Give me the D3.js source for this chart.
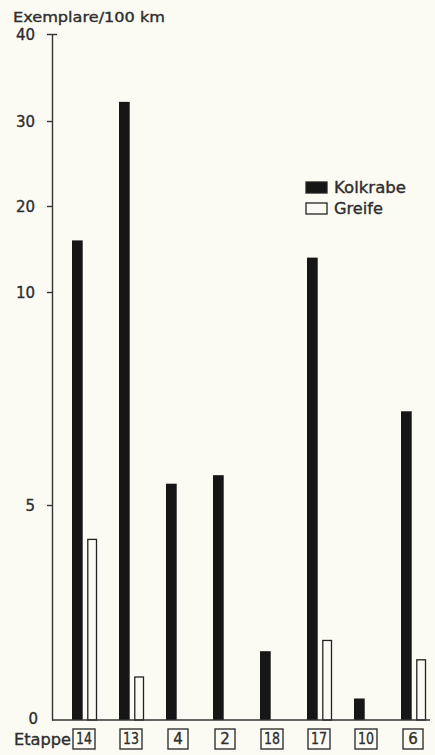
<!DOCTYPE html>
<html>
<head>
<meta charset="utf-8">
<script src="https://cdn.jsdelivr.net/npm/d3@7"></script>
<style>
  body { margin: 0; background: #fcfbf3; }
  svg { display: block; }
  text { font-family: "DejaVu Sans", sans-serif; fill: #2e2e2e; stroke: #2e2e2e; stroke-width: 0.35px; }
</style>
</head>
<body>
<div id="chart-area"></div>
<script>

// Data
var stages = ["14", "13", "4", "2", "18", "17", "10", "6"];
var kolkrabe = [16.0, 32.2, 5.5, 5.7, 1.6, 14.0, 0.5, 7.2];
var greife = [4.2, 1.0, 0, 0, 0, 1.85, 0, 1.4];
var seriesNames = ["Kolkrabe", "Greife"];
var tickValues = [0, 5, 10, 20, 30, 40];

var width = 435, height = 755;

var svg = d3.select("#chart-area").append("svg")
    .attr("width", width)
    .attr("height", height);

// Scales (the axis is broken: 0-10 stretched, 10-40 compressed)
var y = d3.scaleLinear()
    .domain([0, 5, 10, 20, 30, 40])
    .range([720, 505, 292, 206, 121, 34]);

var x0 = d3.scaleBand()
    .domain(stages)
    .range([72, 427])
    .paddingInner(0.447)
    .paddingOuter(0);

var x1 = d3.scaleBand()
    .domain(seriesNames)
    .range([0, x0.bandwidth()])
    .paddingInner(0.3);

var data = stages.map((s, i) => ({stage: s, Kolkrabe: kolkrabe[i], Greife: greife[i]}));

// Bars
var groups = svg.selectAll(".group")
    .data(data)
    .join("g")
    .attr("class", "group")
    .attr("transform", d => `translate(${x0(d.stage)},0)`);

groups.selectAll("rect")
    .data(d => seriesNames.map(k => ({key: k, value: d[k]})).filter(e => e.value > 0))
    .join("rect")
    .attr("x", d => x1(d.key) + (d.key == "Greife" ? 0.5 : 0))
    .attr("y", d => y(d.value))
    .attr("width", d => d.key == "Greife" ? x1.bandwidth() - 2 : x1.bandwidth())
    .attr("height", d => y(0) - y(d.value))
    .attr("fill", d => d.key == "Kolkrabe" ? "#161616" : "#fcfbf3")
    .attr("stroke", d => d.key == "Kolkrabe" ? "none" : "#222")
    .attr("stroke-width", 1.3);

// Y axis
var yAxis = d3.axisLeft(y)
    .tickValues(tickValues)
    .tickSize(5)
    .tickSizeOuter(0)
    .tickFormat(d3.format("d"));

var gy = svg.append("g")
    .attr("class", "y-axis")
    .attr("transform", "translate(52,0)")
    .call(yAxis);

gy.select(".domain").attr("stroke", "#333").attr("stroke-width", 1.4);
gy.selectAll(".tick line").attr("stroke", "#333").attr("stroke-width", 1.4);
gy.selectAll(".tick").filter(d => d === 0).select("line").remove();
gy.selectAll(".tick").filter(d => d === 40).select("line").attr("x2", 5).attr("x1", -5);
gy.selectAll(".tick text")
    .attr("x", -17)
    .attr("dy", "0.38em")
    .style("font-size", "15px")
    .style("font-family", "DejaVu Sans, sans-serif")
    .attr("fill", "#2e2e2e");
gy.selectAll(".tick").filter(d => d === 0).select("text").attr("x", -14).attr("dy", "0.25em");

// Baseline
svg.append("line")
    .attr("x1", 52).attr("x2", 430)
    .attr("y1", y(0)).attr("y2", y(0))
    .attr("stroke", "#333")
    .attr("stroke-width", 1.5);

// Axis title
svg.append("text")
    .attr("x", 13)
    .attr("y", 22)
    .attr("textLength", 152)
    .attr("lengthAdjust", "spacingAndGlyphs")
    .style("font-size", "14px")
    .text("Exemplare/100 km");

// Stage labels in boxes
var labels = svg.selectAll(".stage")
    .data(stages)
    .join("g")
    .attr("class", "stage")
    .attr("transform", d => `translate(${x0(d) + x0.bandwidth() / 2 - 1},739)`);

labels.append("rect")
    .attr("x", d => d.length > 1 ? -11 : -10)
    .attr("y", -10)
    .attr("width", d => d.length > 1 ? 22 : 20)
    .attr("height", 20)
    .attr("fill", "none")
    .attr("stroke", "#333")
    .attr("stroke-width", 1.4);

labels.append("text")
    .attr("text-anchor", "middle")
    .attr("dy", "0.36em")
    .attr("textLength", d => d.length > 1 ? 16 : null)
    .attr("lengthAdjust", "spacingAndGlyphs")
    .style("font-size", "15px")
    .text(d => d);

svg.append("text")
    .attr("x", 14)
    .attr("y", 745)
    .attr("textLength", 57)
    .attr("lengthAdjust", "spacingAndGlyphs")
    .style("font-size", "15px")
    .text("Etappe");

// Legend
var legendWidths = [72, 49];

var legend = svg.selectAll(".legend")
    .data(seriesNames)
    .join("g")
    .attr("class", "legend")
    .attr("transform", (d, i) => `translate(306,${182 + i * 21})`);

legend.append("rect")
    .attr("width", 21)
    .attr("height", 11)
    .attr("fill", d => d == "Kolkrabe" ? "#161616" : "none")
    .attr("stroke", "#222")
    .attr("stroke-width", 1.3);

legend.append("text")
    .attr("x", 28)
    .attr("y", 11)
    .attr("textLength", (d, i) => legendWidths[i])
    .attr("lengthAdjust", "spacingAndGlyphs")
    .style("font-size", "15px")
    .text(d => d);

</script>
</body>
</html>
